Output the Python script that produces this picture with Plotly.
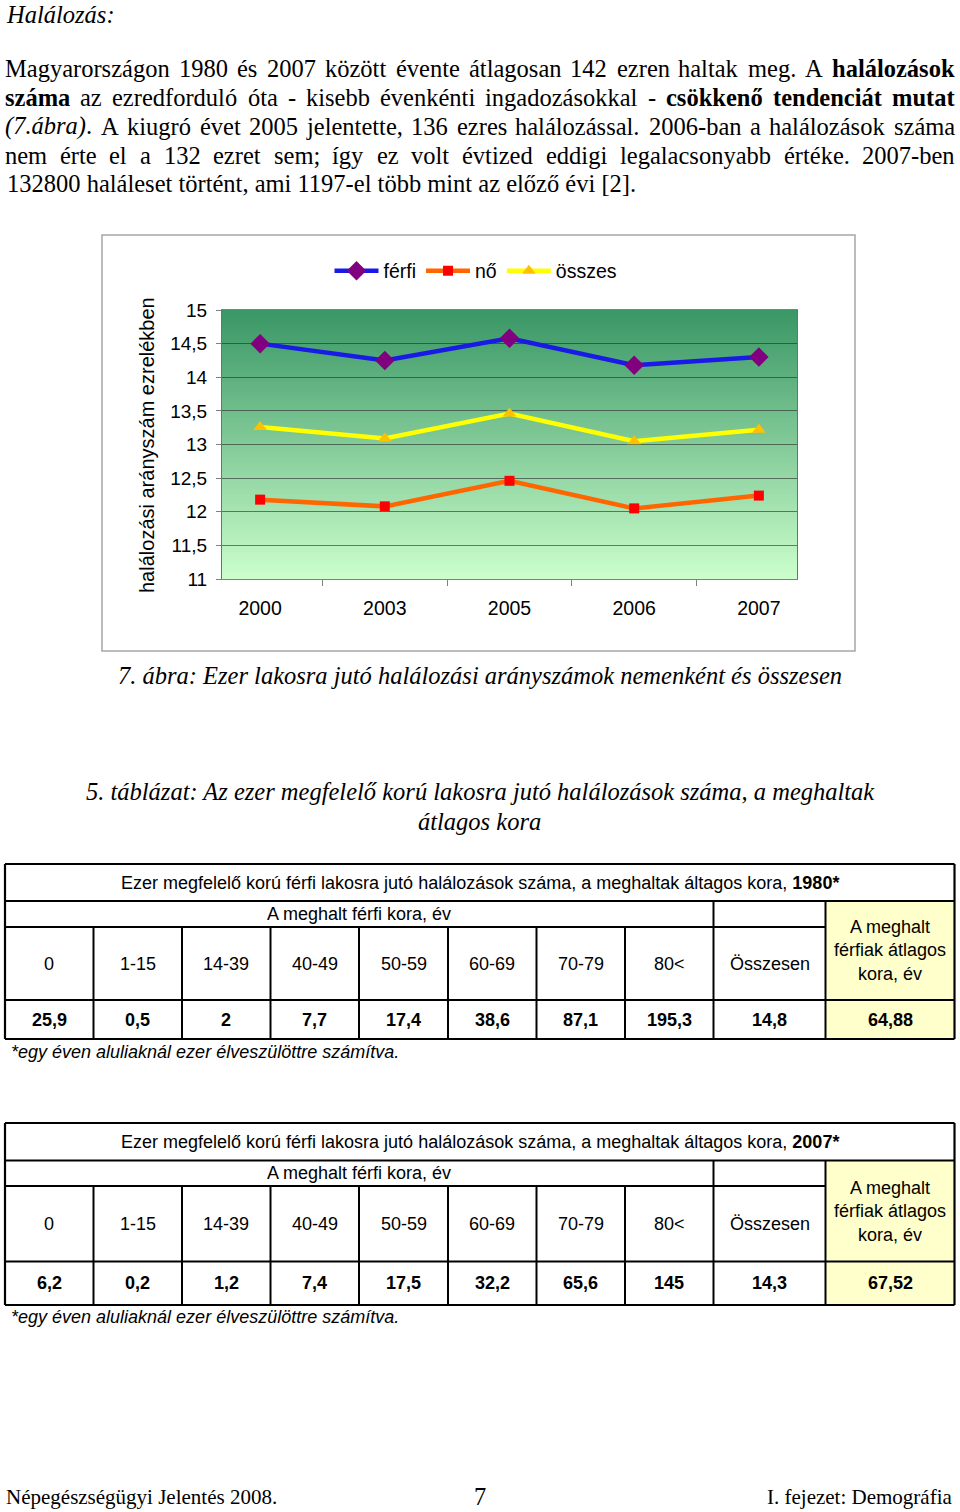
import re
import unicodedata
import plotly.graph_objects as go

W, H = 960, 1512

# ---------------- data ----------------
years = ['2000', '2003', '2005', '2006', '2007']
ferfi = [14.50, 14.25, 14.58, 14.18, 14.30]
no = [12.18, 12.08, 12.46, 12.05, 12.24]
osszes = [13.26, 13.09, 13.46, 13.05, 13.22]

age_groups = ['0', '1-15', '14-39', '40-49', '50-59', '60-69', '70-79', '80<', 'Összesen']
rates_1980 = [25.9, 0.5, 2, 7.7, 17.4, 38.6, 87.1, 195.3, 14.8]
avg_age_1980 = 64.88
rates_2007 = [6.2, 0.2, 1.2, 7.4, 17.5, 32.2, 65.6, 145, 14.3]
avg_age_2007 = 67.52

heading = 'Halálozás:'
para_lines = [
    'Magyarországon 1980 és 2007 között évente átlagosan 142 ezren haltak meg. A <b>halálozások</b>',
    '<b>száma</b> az ezredforduló óta - kisebb évenkénti ingadozásokkal - <b>csökkenő</b> <b>tendenciát</b> <b>mutat</b>',
    '<i>(7.ábra)</i>. A kiugró évet 2005 jelentette, 136 ezres halálozással. 2006-ban a halálozások száma',
    'nem érte el a 132 ezret sem; így ez volt évtized eddigi legalacsonyabb értéke. 2007-ben',
]
para_last = '132800 haláleset történt, ami 1197-el több mint az előző évi [2].'
fig_caption = '7. ábra: Ezer lakosra jutó halálozási arányszámok nemenként és összesen'
tab_caption = ['5. táblázat: Az ezer megfelelő korú lakosra jutó halálozások száma, a meghaltak',
               'átlagos kora']
tab_title = 'Ezer megfelelő korú férfi lakosra jutó halálozások száma, a meghaltak áltagos kora, '
tab_years = ['1980*', '2007*']
tab_group_head = 'A meghalt férfi kora, év'
tab_avg_head = 'A meghalt<br>férfiak átlagos<br>kora, év'
footnote = '*egy éven aluliaknál ezer élveszülöttre számítva.'
footer_left = 'Népegészségügyi Jelentés 2008.'
footer_mid = '7'
footer_right = 'I. fejezet: Demográfia'

# ---------------- helpers ----------------
def px(x):
    return x / W

def py(y):
    return 1 - y / H

SERIF = 'Liberation Serif, Times New Roman, serif'
SANS = 'Liberation Sans, Arial, sans-serif'

def build_widths(groups):
    d = {}
    for w, chars in groups.items():
        for c in chars:
            d[c] = w
    return d

W_R = build_widths({250: ' ,.', 278: 'ijlt:;/', 333: "frI()[]-'", 389: 'sJ', 444: 'acez?',
                    500: 'bdghknopquvxy0123456789*', 556: 'FPS', 611: 'ELTZ', 667: 'BCR',
                    722: 'ADGHKNOQUVXYw', 778: 'm', 889: 'M', 944: 'W'})
W_B = build_widths({250: ' ,.', 278: 'il', 333: 'fjt()[]-:;I', 389: 's', 444: 'cerz',
                    500: 'agovxy0123456789*', 556: 'bdhknpqu', 722: 'wA', 833: 'm', 944: 'M'})
W_I = build_widths({250: ' ,.', 278: 'ijlt', 333: ':;()[]-', 389: 'rsz', 444: 'ce',
                    500: 'abdghknopquvxy0123456789', 611: 'A', 667: 'w', 722: 'mH'})

def char_w(c, style):
    base = unicodedata.normalize('NFD', c)[0]
    table = {'r': W_R, 'b': W_B, 'i': W_I}[style]
    return table.get(base, 500)

def word_width(word, fs):
    style = 'r'
    total = 0
    for tok in re.split(r'(</?[bi]>)', word):
        if tok in ('<b>', '<i>'):
            style = tok[1]
        elif tok in ('</b>', '</i>'):
            style = 'r'
        else:
            total += sum(char_w(c, style) for c in tok)
    return total * fs / 1000.0

annotations = []

def add_text(text, x, y, size, family=SERIF, anchor='center', color='black', angle=0, pad=1):
    annotations.append(dict(text=text, x=px(x), y=py(y), xref='paper', yref='paper',
                            xanchor=anchor, yanchor='middle', showarrow=False,
                            font=dict(family=family, size=size, color=color),
                            textangle=angle, align='center', borderpad=pad))

# ---------------- page text ----------------
BODY = 24.5
add_text('<i>' + heading + '</i>', 5, 15, BODY, anchor='left', pad=0)
line_y = [68, 97, 126, 155]
L, R = 5, 955
for line, yy in zip(para_lines, line_y):
    words = line.split(' ')
    ws = [word_width(w, BODY) for w in words]
    gap = (R - L - sum(ws)) / (len(words) - 1)
    xpos = L
    for w, wd in zip(words, ws):
        add_text(w, xpos + wd / 2, yy, BODY)
        xpos += wd + gap
add_text(para_last, 5, 184, BODY, anchor='left')

add_text('<i>' + fig_caption + '</i>', 480, 675, BODY)
add_text('<i>' + tab_caption[0] + '</i>', 480, 791, BODY)
add_text('<i>' + tab_caption[1] + '</i>', 479, 821, BODY)

add_text(footer_left, 5, 1497, 21, anchor='left', pad=0)
add_text(footer_mid, 480, 1496, 24.5, pad=0)
add_text(footer_right, 953, 1497, 21, anchor='right', pad=0)

# ---------------- shapes ----------------
shapes = []

def line_shape(x0, y0, x1, y1, width=2, color='black'):
    shapes.append(dict(type='line', xref='paper', yref='paper', x0=px(x0), y0=py(y0),
                       x1=px(x1), y1=py(y1), line=dict(color=color, width=width)))

shapes.append(dict(type='rect', xref='paper', yref='paper', x0=px(102), y0=py(651),
                   x1=px(855), y1=py(235), line=dict(color='#a6a6a6', width=1.5),
                   fillcolor='rgba(0,0,0,0)', layer='below'))

top_c = (57, 150, 101)
bot_c = (204, 255, 204)
N = 90
for i in range(N):
    t = (i + 0.5) / N
    c = tuple(int(round(top_c[k] + (bot_c[k] - top_c[k]) * t)) for k in range(3))
    y1 = 1 - i / N
    y0 = max(0, 1 - (i + 1) / N - 0.004)
    shapes.append(dict(type='rect', xref='x domain', yref='y domain', x0=0, x1=1,
                       y0=y0, y1=y1, line=dict(width=0),
                       fillcolor='rgb(%d,%d,%d)' % c, layer='below'))

cols = [5, 93.5, 182, 270.5, 359, 448, 536.5, 625, 713.5, 825.5, 954.5]

def fmt(v):
    return ('%g' % v).replace('.', ',')

def draw_table(top, title_bot, r1_bot, data_top, bot, year, rates, avg, fn_y):
    shapes.append(dict(type='rect', xref='paper', yref='paper', x0=px(cols[9]), x1=px(cols[10]),
                       y0=py(bot), y1=py(title_bot), fillcolor='#FFFFCC', line=dict(width=0),
                       layer='below'))
    line_shape(cols[0], top, cols[10], top, 2.2)
    line_shape(cols[0], bot, cols[10], bot, 2.2)
    line_shape(cols[0], top, cols[0], bot, 2.2)
    line_shape(cols[10], top, cols[10], bot, 2.2)
    line_shape(cols[0], title_bot, cols[10], title_bot)
    line_shape(cols[0], r1_bot, cols[9], r1_bot)
    line_shape(cols[0], data_top, cols[10], data_top)
    for c in cols[1:8]:
        line_shape(c, r1_bot, c, bot)
    for c in cols[8:10]:
        line_shape(c, title_bot, c, bot)
    add_text(tab_title + '<b>' + year + '</b>', 480, (top + title_bot) / 2, 18, SANS)
    add_text(tab_group_head, (cols[0] + cols[8]) / 2, (title_bot + r1_bot) / 2, 18, SANS)
    for i, lab in enumerate(age_groups):
        cx = (cols[i] + cols[i + 1]) / 2
        add_text(lab, cx, (r1_bot + data_top) / 2, 18, SANS)
        add_text('<b>' + fmt(rates[i]) + '</b>', cx, (data_top + bot) / 2, 18, SANS)
    add_text(tab_avg_head, (cols[9] + cols[10]) / 2, (title_bot + data_top) / 2, 18, SANS)
    add_text('<b>' + fmt(avg) + '</b>', (cols[9] + cols[10]) / 2, (data_top + bot) / 2, 18, SANS)
    add_text('<i>' + footnote + '</i>', 9, fn_y, 18, SANS, anchor='left')

draw_table(864, 901, 927, 1000, 1039, tab_years[0], rates_1980, avg_age_1980, 1052)
draw_table(1123, 1160.5, 1186, 1261.5, 1305, tab_years[1], rates_2007, avg_age_2007, 1317)

add_text('halálozási arányszám ezrelékben', 147, 445, 20, SANS, angle=-90)

# ---------------- traces ----------------
fig = go.Figure()
fig.add_trace(go.Scatter(x=years, y=ferfi, name='férfi', mode='lines+markers',
                         line=dict(color='#1a1ae6', width=4.5),
                         marker=dict(symbol='diamond', size=15, color='#800080')))
fig.add_trace(go.Scatter(x=years, y=no, name='nő', mode='lines+markers',
                         line=dict(color='#FF6600', width=4.5),
                         marker=dict(symbol='square', size=10, color='#FF0000')))
fig.add_trace(go.Scatter(x=years, y=osszes, name='összes', mode='lines+markers',
                         line=dict(color='#FFFF00', width=4.5),
                         marker=dict(symbol='triangle-up', size=12, color='#FFC000')))

fig.update_layout(
    width=W, height=H, autosize=False,
    margin=dict(l=0, r=0, t=0, b=0, pad=0, autoexpand=False),
    paper_bgcolor='white',
    plot_bgcolor='rgb(204,255,204)',
    separators=', ',
    showlegend=True,
    legend=dict(orientation='h', x=px(476), y=py(271), xanchor='center', yanchor='middle',
                font=dict(family=SANS, size=19.5, color='black'), itemwidth=44,
                bgcolor='rgba(0,0,0,0)', itemclick=False, tracegroupgap=0),
    xaxis=dict(domain=[px(222), px(797)], type='category', tickson='boundaries',
               ticks='outside', ticklen=6, tickcolor='#808080', showline=True,
               linecolor='#808080', linewidth=1, mirror=True, showgrid=False,
               tickfont=dict(family=SANS, size=19.5, color='black'),
               ticklabelstandoff=12, fixedrange=True, automargin=False),
    yaxis=dict(domain=[py(579), py(310)], range=[11, 15], dtick=0.5, tick0=11,
               ticks='outside', ticklen=5, tickcolor='#808080', showline=True,
               linecolor='#707070', linewidth=1, mirror=True, showgrid=True,
               gridcolor='rgba(40,40,40,0.6)', gridwidth=1, zeroline=False,
               tickfont=dict(family=SANS, size=19, color='black'),
               ticklabelstandoff=5, fixedrange=True, automargin=False),
    shapes=shapes,
    annotations=annotations,
)

post = ("document.documentElement.style.margin='0';document.body.style.margin='0';"
        "document.body.style.padding='0';document.documentElement.style.overflow='hidden';"
        "document.body.style.overflow='hidden';"
        "var g=document.querySelector('.plotly-graph-div');"
        "g.style.position='absolute';g.style.left='0px';g.style.top='0px';")

fig.write_html('out.html', config={'displayModeBar': False, 'responsive': False},
               post_script=post)
